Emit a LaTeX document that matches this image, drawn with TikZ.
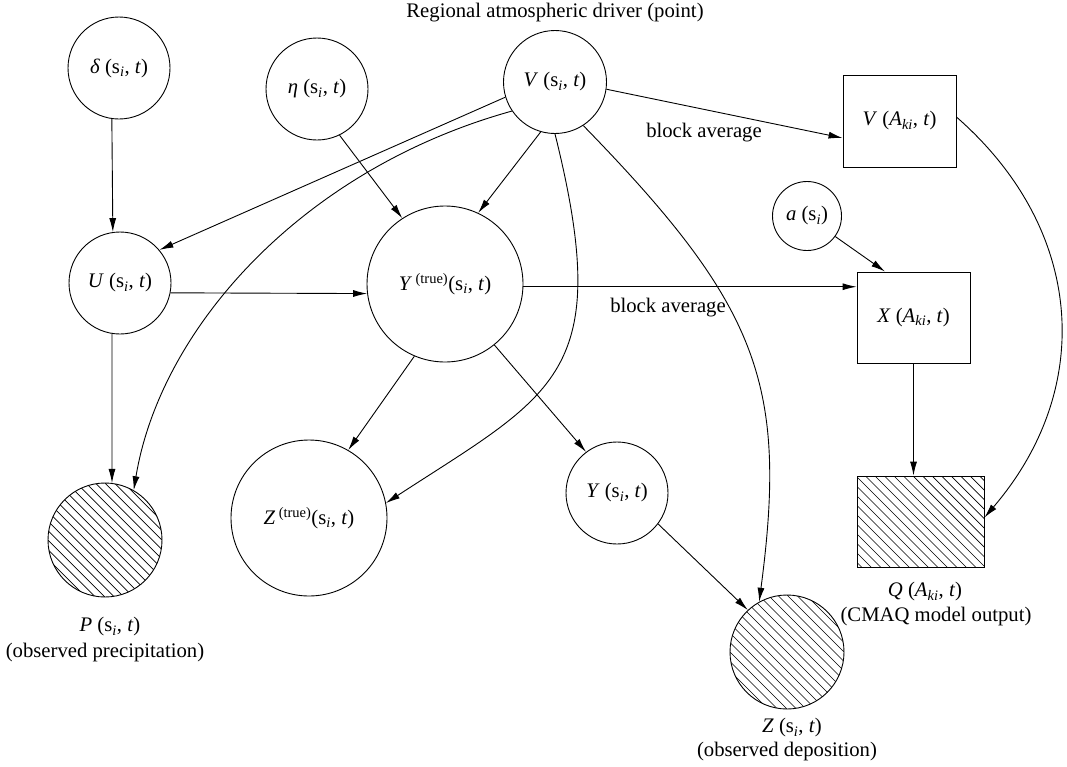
\documentclass[tikz,border=0pt]{standalone}
\usepackage{fontspec}
\setmainfont{Liberation Serif}
\usetikzlibrary{arrows.meta,calc}
\newcommand{\myst}{(s\textsubscript{\textit{i}},~\textit{t})}
\newcommand{\myat}{(\textit{A}\textsubscript{\textit{ki}},~\textit{t})}
\begin{document}
\begin{tikzpicture}[x=1pt,y=-1pt,
  every node/.style={font=\fontsize{20.7}{25}\selectfont},
  var/.style={circle,draw,line width=0.9pt,inner sep=0pt},
  blk/.style={rectangle,draw,line width=0.9pt,inner sep=0pt},
  txt/.style={inner sep=0pt},
  arr/.style={line width=0.9pt,-{Latex[length=14pt,width=7pt]}},
  hatch/.style={line width=0.7pt}]
\useasboundingbox (0,0) rectangle (1067,766);

\node[txt] (title) at (555,13) {Regional atmospheric driver (point)};
\node[var,minimum size=102pt] (d) at (119,68) {\textit{δ}~\myst};
\node[var,minimum size=102pt] (eta) at (317,89) {\textit{η}~\myst};
\node[var,minimum size=103pt] (V) at (555,82) {\textit{V}~\myst};
\node[blk,minimum width=113pt,minimum height=92pt] (VA) at (899.5,121) {\textit{V}~\myat};
\node[var,minimum size=69pt] (a) at (807,216) {\textit{a}~(s\textsubscript{\textit{i}})};
\node[var,minimum size=102pt] (U) at (120,283) {\textit{U}~\myst};
\node[var,minimum size=156pt] (Yt) at (445,284) {\textit{Y}\,\textsuperscript{(true)}\myst};
\node[blk,minimum width=113pt,minimum height=91pt] (X) at (913.5,317.5) {\textit{X}~\myat};
\node[var,minimum size=114pt] (P) at (105,540) {};
\node[var,minimum size=156pt] (Zt) at (309,518) {\textit{Z}\,\textsuperscript{(true)}\myst};
\node[var,minimum size=102pt] (Ys) at (617,493) {\textit{Y}~\myst};
\node[var,minimum size=114pt] (Z) at (787,652) {};
\node[blk,minimum width=127pt,minimum height=91pt] (Q) at (920.5,521.5) {};

\node[txt] (Pl1) at (110,627) {\textit{P}~\myst};
\node[txt] (Pl2) at (105,653) {(observed precipitation)};
\node[txt] (Ql1) at (925,592) {\textit{Q}~\myat};
\node[txt] (Ql2) at (936,617) {(CMAQ model output)};
\node[txt] (Zl1) at (792,728) {\textit{Z}~\myst};
\node[txt] (Zl2) at (787,752) {(observed deposition)};
\node[txt] (ba1) at (704,133) {block average};
\node[txt] (ba2) at (668,308) {block average};

\begin{scope}[shift={(P.center)}]
  \clip (0,0) circle[radius=57pt];
  \foreach \k in {-133,-123.5,...,133} \draw[hatch] (\k-60,-60) -- (\k+60,60);
\end{scope}
\begin{scope}[shift={(Z.center)}]
  \clip (0,0) circle[radius=57pt];
  \foreach \k in {-133,-123.5,...,133} \draw[hatch] (\k-60,-60) -- (\k+60,60);
\end{scope}
\begin{scope}[shift={(Q.center)}]
  \clip (-63.5,-45.5) rectangle (63.5,45.5);
  \foreach \k in {-152,-142.5,...,152} \draw[hatch] (\k-50,-50) -- (\k+50,50);
\end{scope}

\draw[arr] (d.262) -- (U.98);
\draw[arr] (U.261) -- (P.83);
\draw[arr] (V.197) -- (U.40);
\draw[arr] (V.214) .. controls (300,170) and (160,330) .. (P.60);
\draw[arr] (V.254) -- (Yt.65);
\draw[arr] (eta.296) -- (Yt.123);
\draw[arr] (U.349) -- (Yt.187);
\draw[arr] (Yt.358) -- (Yt.358 -| X.west);
\draw[arr] (a.324) -- ($(X.north west)!0.25!(X.north east)$);
\draw[arr] (X.south) -- (X.south |- Q.north);
\draw[arr] (V.352) -- ($(VA.west)+(0,17)$);
\draw[arr] ($(VA.east)+(0,-4)$) .. controls (1084.5,229) and (1095.5,388) .. ($(Q.east)+(0,-4)$);
\draw[arr] (V.south) .. controls (615,375) and (555,393) .. (Zt.11);
\draw[arr] (V.303) .. controls (759,306) and (788,384) .. (Z.119);
\draw[arr] (Yt.247) -- (Zt.60);
\draw[arr] (Yt.309) -- (Ys.127);
\draw[arr] (Ys.323) -- (Z.133);
\end{tikzpicture}
\end{document}
